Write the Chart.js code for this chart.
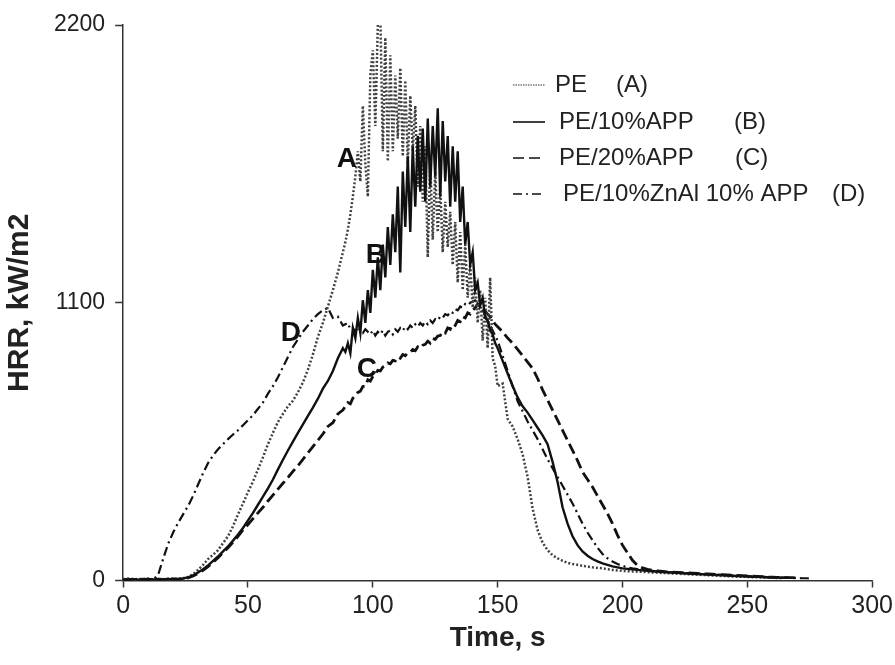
<!DOCTYPE html>
<html>
<head>
<meta charset="utf-8">
<script src="https://cdn.jsdelivr.net/npm/chart.js@4.4.1/dist/chart.umd.min.js"></script>
<style>
  html, body { margin: 0; padding: 0; background: #fff; }
  #wrap { width: 895px; height: 665px; position: relative; }
</style>
</head>
<body>
<div id="wrap"><canvas id="hrrChart"></canvas></div>
<script>
    // tempo (s): a cada 2 s, e a cada 1 s na zona do pico
    const tempos = [
        0, 2, 4, 6, 8, 10, 12, 14, 16, 18,
        20, 22, 24, 26, 28, 30, 32, 34, 36, 38,
        40, 42, 44, 46, 48, 50, 52, 54, 56, 58,
        60, 62, 64, 66, 68, 70, 72, 74, 76, 78,
        80, 82, 84, 86, 88,
        89, 90, 91, 92, 93, 94, 95, 96, 97, 98, 99,
        100, 101, 102, 103, 104, 105, 106, 107, 108, 109,
        110, 111, 112, 113, 114, 115, 116, 117, 118, 119,
        120, 121, 122, 123, 124, 125, 126, 127, 128, 129,
        130, 131, 132, 133, 134, 135, 136, 137, 138, 139,
        140, 141, 142, 143, 144, 145, 146, 147, 148, 149, 150,
        152, 154, 156, 158,
        160, 162, 164, 166, 168, 170, 172, 174, 176, 178,
        180, 182, 184, 186, 188, 190, 192, 194, 196, 198,
        200, 202, 204, 206, 208, 210, 212, 214, 216, 218,
        220, 222, 224, 226, 228, 230, 232, 234, 236, 238,
        240, 242, 244, 246, 248, 250, 252, 254, 256, 258,
        260, 262, 264, 266, 268, 270, 272, 274, 276
    ];

    // HRR (kW/m2) de cada amostra
    const hrrPE = [
        5, 8, 4, 6, 5, 7, 4, 6, 5, 8,
        6, 7, 9, 14, 25, 42, 62, 85, 102, 120,
        148, 175, 215, 262, 305, 350, 392, 440, 488, 540,
        585, 628, 660, 690, 712, 745, 785, 835, 895, 965,
        1020, 1085, 1150, 1220, 1300,
        1340, 1390, 1450, 1520, 1600, 1700, 1580, 1880, 1650, 1520, 2000,
        2100, 1800, 2200, 2250, 1700, 2150, 1660, 2080, 1700, 2000,
        1750, 2030, 1680, 1980, 1650, 1920, 1700, 1880, 1560, 1800,
        1500, 1720, 1280, 1660, 1350, 1620, 1380, 1560, 1300, 1500,
        1320, 1460, 1250, 1420, 1180, 1380, 1150, 1330, 1120, 1260,
        1080, 1200, 1020, 1150, 950, 1120, 920, 1200, 880, 850, 770,
        780, 640, 610, 560,
        500, 410, 285, 200, 150, 120, 100, 88, 78, 70,
        65, 62, 58, 55, 52, 50, 48, 45, 42, 40,
        38, 37, 36, 35, 34, 33, 32, 31, 30, 29,
        28, 27, 26, 25, 24, 23, 22, 21, 20, 19,
        18, 17, 16, 15, 15, 14, 13, 13, 12, 11,
        11, 10, 10, null, null, null, null, null, null
    ];

    const hrrApp10 = [
        3, 4, 5, 3, 4, 6, 4, 5, 4, 5,
        6, 5, 8, 12, 20, 32, 45, 60, 78, 95,
        115, 135, 158, 182, 208, 238, 268, 300, 332, 365,
        400, 440, 478, 515, 550, 585, 618, 652, 685, 720,
        760, 790, 830, 880, 920,
        905, 940, 900, 1000, 960, 1040, 980, 1110, 1020, 1150, 1060,
        1230, 1120, 1280, 1150, 1330, 1200, 1400, 1250, 1450, 1300,
        1560, 1220, 1620, 1400, 1680, 1380, 1720, 1480, 1760, 1540,
        1790, 1500, 1830, 1560, 1800, 1600, 1870, 1520, 1820, 1580,
        1760, 1480, 1720, 1500, 1700, 1420, 1560, 1330, 1420, 1250,
        1300, 1150, 1180, 1090, 1120, 1040, 1030, 990, 975, 940, 920,
        870, 820, 770, 725,
        690, 665, 635, 605, 575, 540, 470, 390, 290, 225,
        175, 140, 115, 98, 85, 76, 68, 62, 56, 52,
        48, 46, 44, 42, 40, 38, 36, 35, 33, 32,
        31, 30, 29, 28, 27, 26, 25, 24, 23, 22,
        21, 20, 19, 18, 17, 16, 15, 15, 14, 13,
        12, 12, 11, 11, null, null, null, null, null
    ];

    const hrrApp20 = [
        4, 3, 5, 4, 5, 4, 6, 5, 4, 5,
        6, 5, 7, 10, 18, 28, 40, 55, 72, 90,
        110, 130, 152, 175, 200, 222, 245, 268, 290, 315,
        338, 362, 385, 408, 432, 455, 480, 505, 530, 555,
        580, 610, 625, 660, 675,
        690, 705, 700, 722, 730, 745, 750, 768, 770, 795, 790,
        808, 815, 832, 830, 845, 850, 862, 858, 872, 870,
        885, 880, 895, 890, 902, 905, 915, 910, 925, 920,
        932, 935, 948, 940, 958, 955, 968, 970, 985, 980,
        1000, 995, 1015, 1010, 1030, 1025, 1045, 1040, 1060, 1055,
        1070, 1080, 1095, 1085, 1075, 1065, 1055, 1045, 1030, 1015, 1005,
        985, 960, 940, 915,
        890, 865, 840, 800, 755, 715, 675, 635, 595, 555,
        515, 475, 430, 400, 370, 335, 300, 265, 225, 180,
        140, 110, 80, 60, 50, 44, 40, 38, 36, 34,
        33, 32, 31, 30, 29, 28, 27, 26, 25, 24,
        23, 22, 21, 20, 19, 18, 17, 16, 15, 14,
        13, 12, 12, 11, 11, 10, null, null, null
    ];

    const hrrZnAl = [
        2, 3, 2, 3, 2, 3, 4, 22, 85, 145,
        190, 228, 262, 295, 335, 380, 425, 465, 495, 520,
        540, 560, 578, 595, 615, 635, 655, 680, 705, 740,
        770, 805, 845, 885, 925, 955, 985, 1010, 1035, 1055,
        1070, 1080, 1040, 1045, 1010,
        1015, 1020, 995, 1000, 985, 1005, 990, 980, 995, 985, 975,
        990, 970, 985, 975, 990, 970, 985, 990, 975, 995,
        985, 1000, 990, 1005, 995, 1010, 1000, 1015, 1005, 1020,
        1010, 1025, 1015, 1030, 1020, 1035, 1030, 1045, 1040, 1055,
        1050, 1065, 1060, 1075, 1070, 1085, 1080, 1095, 1090, 1100,
        1105, 1110, 1100, 1085, 1070, 1050, 1030, 1010, 990, 970, 950,
        890, 830, 770, 710,
        670, 630, 595, 560, 520, 480, 445, 410, 375, 340,
        305, 265, 225, 190, 160, 130, 105, 88, 75, 65,
        58, 52, 48, 45, 42, 40, 38, 36, 35, 33,
        32, 31, 30, 29, 28, 27, 26, 25, 24, 23,
        22, 21, 20, 19, 18, 17, 16, 15, 14, 13,
        12, 12, 11, 11, 10, 10, 9, 9, 8
    ];

    const nomesSeries = ['PE', 'PE/10%APP', 'PE/20%APP', 'PE/10%ZnAl 10% APP'];
    const codigosSeries = ['(A)', '(B)', '(C)', '(D)'];

    // letras sobre as curvas (tempo, HRR)
    const letrasCurvas = ['A', 'B', 'C', 'D'];
    const letrasTempo = [89.6, 101.2, 97.6, 67.2];
    const letrasHrr = [1668, 1287, 838, 981];

    const yTicks = [0, 1100, 2200];

    const fonteBase = '"Liberation Sans", Arial, sans-serif';

    function pontos(valores) {
        return tempos.map((t, i) => ({ x: t, y: valores[i] }));
    }

    // legenda dentro da área do gráfico + letras das curvas
    const legendaInterna = {
        id: 'legendaInterna',
        afterDraw(chart) {
            const ctx = chart.ctx;
            const linhasY = [85, 122, 158, 194];
            const nomeX = [555, 559, 559, 563];
            const codigoX = [616, 734, 735, 832];
            ctx.save();
            chart.data.datasets.forEach((ds, i) => {
                const y = linhasY[i];
                ctx.strokeStyle = i === 0 ? '#777' : ds.borderColor;
                ctx.lineWidth = i === 0 ? 1.5 : 1.6;
                ctx.setLineDash(i === 0 ? [1.5, 1] : (ds.borderDash || []));
                ctx.beginPath();
                ctx.moveTo(513, y);
                ctx.lineTo(545, y);
                ctx.stroke();
                ctx.setLineDash([]);
                ctx.fillStyle = '#222';
                ctx.font = '24px ' + fonteBase;
                ctx.textBaseline = 'middle';
                ctx.textAlign = 'left';
                ctx.fillText(nomesSeries[i], nomeX[i], y);
                ctx.fillText(codigosSeries[i], codigoX[i], y);
            });

            const xs = chart.scales.x, ys = chart.scales.y;
            ctx.font = 'bold 28px ' + fonteBase;
            ctx.textAlign = 'center';
            ctx.textBaseline = 'middle';
            ctx.fillStyle = '#111';
            letrasCurvas.forEach((l, i) => {
                ctx.fillText(l, xs.getPixelForValue(letrasTempo[i]), ys.getPixelForValue(letrasHrr[i]));
            });
            ctx.restore();
        }
    };

    const ctx = document.getElementById('hrrChart').getContext('2d');

    const hrrChart = new Chart(ctx, {
        type: 'line',
        data: {
            datasets: [
                {
                    label: 'PE    (A)',
                    data: pontos(hrrPE),
                    borderColor: '#404040',
                    borderWidth: 2.5,
                    borderDash: [2, 2],
                    order: 2
                },
                {
                    label: 'PE/10%APP    (B)',
                    data: pontos(hrrApp10),
                    borderColor: '#111',
                    borderWidth: 2.4,
                    borderDash: [],
                    order: 1
                },
                {
                    label: 'PE/20%APP    (C)',
                    data: pontos(hrrApp20),
                    borderColor: '#111',
                    borderWidth: 2.8,
                    borderDash: [11, 5],
                    order: 3
                },
                {
                    label: 'PE/10%ZnAl 10% APP  (D)',
                    data: pontos(hrrZnAl),
                    borderColor: '#111',
                    borderWidth: 2.2,
                    borderDash: [9, 4, 2, 4],
                    order: 4
                }
            ]
        },
        options: {
            responsive: true,
            maintainAspectRatio: false,
            animation: false,
            devicePixelRatio: 1,
            layout: {
                padding: { left: 0, right: 13, top: 25, bottom: 13 }
            },
            elements: {
                point: { radius: 0 },
                line: { tension: 0, fill: false }
            },
            plugins: {
                legend: { display: false },
                tooltip: { enabled: false }
            },
            scales: {
                x: {
                    type: 'linear',
                    min: 0,
                    max: 300,
                    ticks: {
                        stepSize: 50,
                        color: '#222',
                        padding: 2,
                        callback: (v) => String(v),
                        font: { family: fonteBase, size: 25, lineHeight: 1.3 }
                    },
                    grid: {
                        drawOnChartArea: false,
                        drawTicks: true,
                        tickLength: 7,
                        tickColor: '#333',
                        tickWidth: 1.5
                    },
                    border: { display: true, color: '#333', width: 1.5 },
                    title: {
                        display: true,
                        text: 'Time, s',
                        color: '#222',
                        padding: { top: 0, bottom: 0 },
                        font: { family: fonteBase, size: 28, weight: 'bold', lineHeight: 1 }
                    }
                },
                y: {
                    min: 0,
                    max: 2200,
                    afterBuildTicks: (axis) => {
                        axis.ticks = yTicks.map(v => ({ value: v }));
                    },
                    ticks: {
                        color: '#222',
                        padding: 10,
                        callback: (v) => String(v),
                        font: { family: fonteBase, size: 23 }
                    },
                    grid: {
                        drawOnChartArea: false,
                        drawTicks: true,
                        tickLength: 8,
                        tickColor: '#333',
                        tickWidth: 1.5
                    },
                    border: { display: true, color: '#333', width: 1.5 },
                    title: {
                        display: true,
                        text: 'HRR, kW/m2',
                        color: '#222',
                        padding: { top: 5, bottom: 9 },
                        font: { family: fonteBase, size: 30, weight: 'bold', lineHeight: 1 }
                    }
                }
            }
        },
        plugins: [legendaInterna]
    });
</script>
</body>
</html>
